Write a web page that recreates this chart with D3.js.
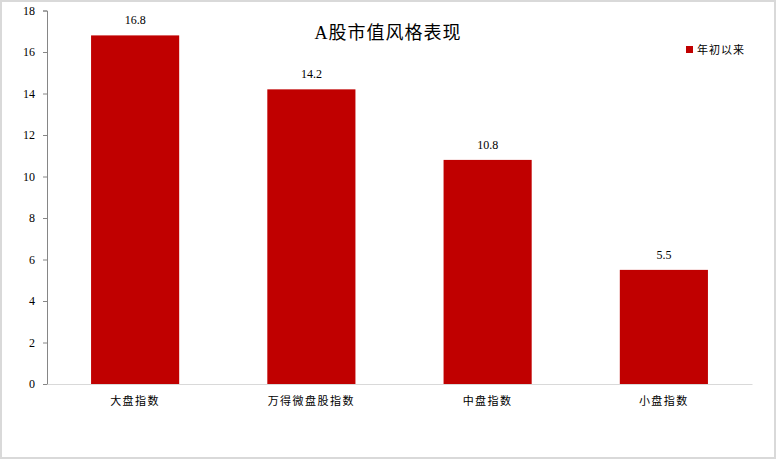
<!DOCTYPE html>
<html>
<head>
<meta charset="utf-8">
<script src="https://cdn.jsdelivr.net/npm/d3@7"></script>
<style>
  body { margin: 0; background: #fff; }
  svg { display: block; }
</style>
</head>
<body>
<svg id="chart" width="777" height="460"></svg>
<script>
// data
var categories = ["大盘指数", "万得微盘股指数", "中盘指数", "小盘指数"];
var values = [16.8, 14.2, 10.8, 5.5];
var yTicks = [0, 2, 4, 6, 8, 10, 12, 14, 16, 18];
var seriesName = "年初以来";
var title = "A股市值风格表现";

var svg = d3.select("#chart");
var W = 777, H = 460;
// plot edges (not "top": that name is taken by window.top)
var plotLeft = 47, plotRight = 752, plotTop = 10.5, plotBottom = 384;

// outer frame
svg.append("rect")
    .attr("x", 1).attr("y", 1)
    .attr("width", W - 3).attr("height", H - 3)
    .attr("fill", "#fff")
    .attr("stroke", "#d9d9d9")
    .attr("stroke-width", 2);

var x = d3.scaleBand()
    .domain(categories)
    .range([plotLeft, plotRight])
    .paddingInner(0.5)
    .paddingOuter(0.25);

var y = d3.scaleLinear()
    .domain([0, 18])
    .range([plotBottom, plotTop]);

// bars
svg.append("g").selectAll("rect")
    .data(values)
    .enter().append("rect")
    .attr("x", function (d, i) { return x(categories[i]); })
    .attr("y", function (d) { return y(d); })
    .attr("width", x.bandwidth())
    .attr("height", function (d) { return y(0) - y(d); })
    .style("fill", "#c00000");

// value labels
svg.append("g").selectAll("text")
    .data(values)
    .enter().append("text")
    .attr("x", function (d, i) { return x(categories[i]) + x.bandwidth() / 2; })
    .attr("y", function (d) { return y(d) - 11; })
    .attr("text-anchor", "middle")
    .style("font-family", "'Liberation Serif', serif")
    .style("font-size", "12px")
    .style("fill", "#000")
    .text(function (d) { return d.toFixed(1); });

// y axis
var yAxis = svg.append("g")
    .attr("transform", "translate(" + plotLeft + ",0)")
    .call(d3.axisLeft(y).tickValues(yTicks).tickSize(4).tickPadding(8).tickFormat(d3.format("d")));
yAxis.select(".domain").attr("stroke", "#868686");
yAxis.selectAll(".tick line").attr("stroke", "#868686");
yAxis.selectAll("text")
    .style("font-family", "'Liberation Serif', serif")
    .style("font-size", "12px")
    .style("fill", "#000");

// x axis
var xAxis = svg.append("g")
    .attr("transform", "translate(0," + plotBottom + ")")
    .call(d3.axisBottom(x).tickSize(0).tickPadding(13));
xAxis.select(".domain").attr("stroke", "#d9d9d9");
xAxis.selectAll("text")
    .style("font-family", "'Noto Sans CJK SC', sans-serif")
    .style("font-size", "11px")
    .style("letter-spacing", "1.5px")
    .style("fill", "#000");

// title
svg.append("text")
    .attr("x", 388)
    .attr("y", 39)
    .attr("text-anchor", "middle")
    .style("font-family", "'Liberation Serif', 'Noto Sans CJK SC', serif")
    .style("font-size", "18px")
    .style("letter-spacing", "1px")
    .style("fill", "#000")
    .text(title);

// legend
svg.append("rect")
    .attr("x", 686).attr("y", 46)
    .attr("width", 7).attr("height", 7)
    .style("fill", "#c00000");
svg.append("text")
    .attr("x", 697).attr("y", 54)
    .style("font-family", "'Noto Sans CJK SC', sans-serif")
    .style("font-size", "11px")
    .style("letter-spacing", "1px")
    .style("fill", "#000")
    .text(seriesName);
</script>
</body>
</html>
